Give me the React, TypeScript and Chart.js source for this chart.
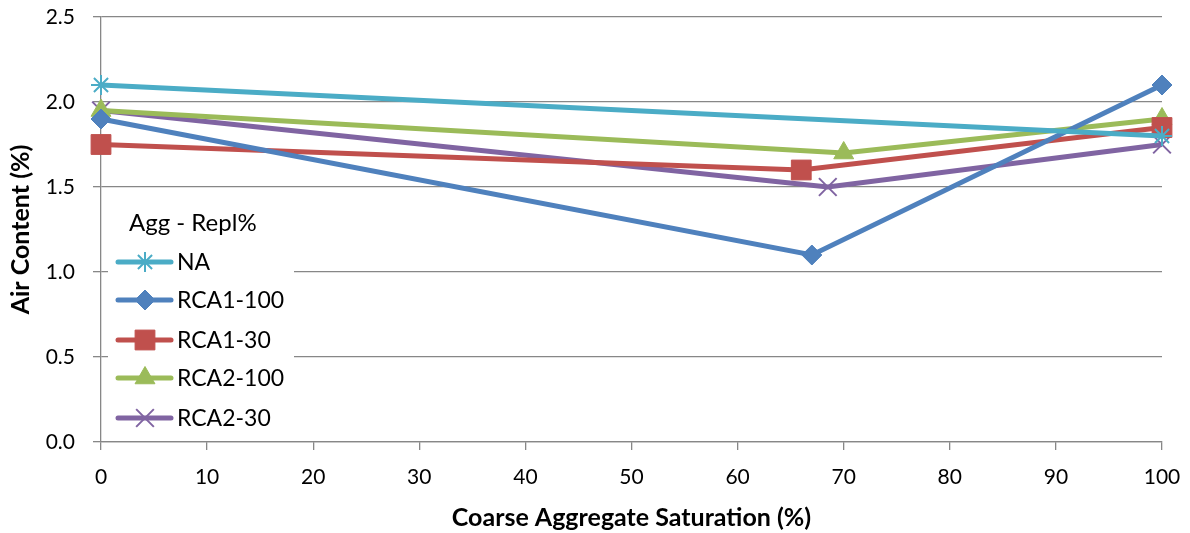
import React, { useEffect, useRef } from 'react';
import { Chart, registerables } from 'chart.js';
import { drawPoint } from 'chart.js/helpers';

Chart.register(...registerables);

const legendTitle = 'Agg - Repl%';
const seriesNames = ['NA', 'RCA1-100', 'RCA1-30', 'RCA2-100', 'RCA2-30'];
const seriesColors = ['#4BACC6', '#4F81BD', '#C0504D', '#9BBB59', '#8064A2'];

const naX = [0, 100];
const naY = [2.1, 1.8];
const rca1_100X = [0, 67, 100];
const rca1_100Y = [1.9, 1.1, 2.1];
const rca1_30X = [0, 66, 100];
const rca1_30Y = [1.75, 1.6, 1.85];
const rca2_100X = [0, 70, 100];
const rca2_100Y = [1.95, 1.7, 1.9];
const rca2_30X = [0, 68.5, 100];
const rca2_30Y = [1.95, 1.5, 1.75];

const xTitle = 'Coarse Aggregate Saturation (%)';
const yTitle = 'Air Content (%)';

const FONT = 'Lato';

const toPts = (xs: number[], ys: number[]) => xs.map((x, i) => ({ x, y: ys[i] }));

const markerStyles: any[] = [
  { pointStyle: 'star', radius: 10, border: 2 },
  { pointStyle: 'rectRot', radius: 10, border: 1 },
  { pointStyle: 'rect', radius: 14, border: 1 },
  { pointStyle: 'triangle', radius: 11.5, border: 1 },
  { pointStyle: 'crossRot', radius: 12.5, border: 2 },
];

const legendPlugin = {
  id: 'insideLegend',
  afterDraw(chart: any) {
    const ctx = chart.ctx;
    ctx.save();
    ctx.fillStyle = '#ffffff';
    ctx.fillRect(108, 198, 186, 240);
    ctx.fillStyle = '#000';
    ctx.font = `24px ${FONT}`;
    ctx.textBaseline = 'middle';
    ctx.textAlign = 'left';
    ctx.fillText(legendTitle, 129, 223);
    ctx.font = `23px ${FONT}`;
    const rows = [262, 300, 340, 378, 418];
    chart.data.datasets.forEach((ds: any, i: number) => {
      const y = rows[i];
      const c = seriesColors[i];
      ctx.strokeStyle = c;
      ctx.lineWidth = 5;
      ctx.lineCap = 'round';
      ctx.beginPath();
      ctx.moveTo(118, y);
      ctx.lineTo(171, y);
      ctx.stroke();
      ctx.fillStyle = c;
      ctx.strokeStyle = c;
      ctx.lineWidth = markerStyles[i].border;
      ctx.lineCap = 'butt';
      drawPoint(ctx, {
        pointStyle: markerStyles[i].pointStyle,
        rotation: 0,
        radius: markerStyles[i].radius,
        borderWidth: markerStyles[i].border,
      } as any, 145, y);
      ctx.fillStyle = '#000';
      ctx.fillText(ds.label, 177, y + 1);
    });
    ctx.restore();
  },
};

export default function App() {
  const ref = useRef<HTMLCanvasElement | null>(null);
  useEffect(() => {
    if (!ref.current) return;
    const all = [
      toPts(naX, naY),
      toPts(rca1_100X, rca1_100Y),
      toPts(rca1_30X, rca1_30Y),
      toPts(rca2_100X, rca2_100Y),
      toPts(rca2_30X, rca2_30Y),
    ];
    const gridColor = '#878787';
    const chart = new Chart(ref.current, {
      type: 'line',
      data: {
        datasets: all.map((d, i) => ({
          label: seriesNames[i],
          data: d,
          borderColor: seriesColors[i],
          backgroundColor: seriesColors[i],
          borderWidth: 5,
          pointStyle: markerStyles[i].pointStyle,
          pointRadius: markerStyles[i].radius,
          pointBorderWidth: markerStyles[i].border,
          pointBackgroundColor: seriesColors[i],
          pointBorderColor: seriesColors[i],
          tension: 0,
          clip: false,
        })) as any,
      },
      options: {
        animation: false,
        responsive: false,
        layout: { padding: { top: 17, right: 28, left: 0, bottom: 0 } },
        plugins: {
          legend: { display: false },
          tooltip: { enabled: false },
        },
        scales: {
          x: {
            type: 'linear',
            min: 0,
            max: 100,
            afterFit: (s: any) => {
              s.height = 91;
              s.paddingLeft = 0;
              s.paddingRight = 0;
            },
            ticks: {
              stepSize: 10,
              color: '#000',
              font: { family: FONT, size: 21 },
              padding: 15,
            },
            grid: { drawOnChartArea: false, drawTicks: true, tickLength: 8, color: gridColor, lineWidth: 1.3 },
            border: { color: gridColor, width: 1.3 },
            title: {
              display: true,
              text: xTitle,
              color: '#000',
              font: { family: FONT, size: 25, weight: 'bold' },
              padding: { top: 4, bottom: 0 },
            },
          },
          y: {
            type: 'linear',
            min: 0,
            max: 2.5,
            afterFit: (s: any) => {
              s.width = 101;
              s.paddingTop = 0;
              s.paddingBottom = 0;
            },
            ticks: {
              stepSize: 0.5,
              color: '#000',
              font: { family: FONT, size: 21 },
              padding: 18,
              callback: (v: any) => Number(v).toFixed(1),
            },
            grid: { drawOnChartArea: true, drawTicks: true, tickLength: 8, color: gridColor, lineWidth: 1.3 },
            border: { color: gridColor, width: 1.3 },
            title: {
              display: true,
              text: yTitle,
              color: '#000',
              font: { family: FONT, size: 25, weight: 'bold' },
              padding: { top: 6, bottom: 4 },
            },
          },
        },
      },
      plugins: [legendPlugin],
    });
    return () => chart.destroy();
  }, []);
  return (
    <div style={{ position: 'absolute', left: 0, top: 0, width: 1190, height: 533, background: '#fff' }}>
      <canvas ref={ref} width={1190} height={533} />
    </div>
  );
}
